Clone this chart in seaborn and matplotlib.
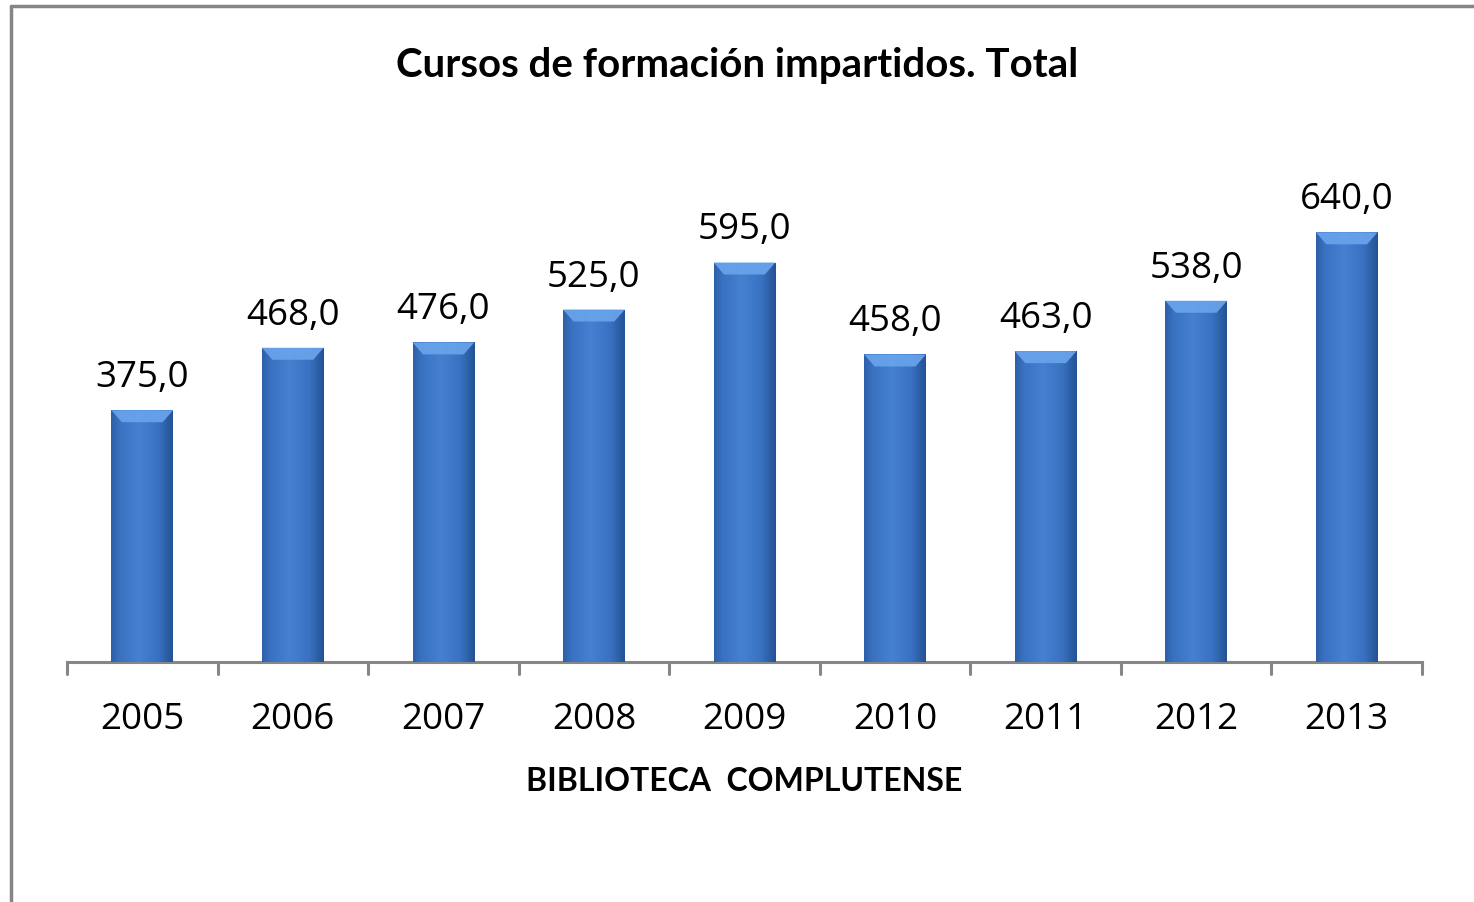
import matplotlib
matplotlib.use("Agg")
import matplotlib.pyplot as plt
import seaborn as sns
import numpy as np
import pandas as pd
from matplotlib.patches import Polygon
from matplotlib.lines import Line2D
from matplotlib.colors import LinearSegmentedColormap

years = ["2005", "2006", "2007", "2008", "2009", "2010", "2011", "2012", "2013"]
values = [375.0, 468.0, 476.0, 525.0, 595.0, 458.0, 463.0, 538.0, 640.0]
title = "Cursos de formación impartidos. Total"
xlabel = "BIBLIOTECA  COMPLUTENSE"

sns.set_theme(style="white")
plt.rcParams['font.family'] = ['Open Sans', 'DejaVu Sans']
plt.rcParams['text.color'] = 'black'
plt.rcParams['xtick.color'] = 'black'
plt.rcParams['axes.labelcolor'] = 'black'

df = pd.DataFrame({"year": years, "value": values})

fig = plt.figure(figsize=(14.74, 9.03), dpi=100)
ax = fig.add_axes([67/1474, 1-663/903, (1422-67)/1474, (663-193)/903])

sns.barplot(data=df, x="year", y="value", color="#3b6fbd", width=0.41,
            saturation=1, ax=ax, edgecolor="none")

ax.set_ylim(0, 700)
ax.set_xlim(-0.5, len(years) - 0.5)

grad = np.linspace(0, 1, 64)
prof = np.clip(1 - np.abs(grad - 0.45) * 1.6, 0, 1)
cmap = LinearSegmentedColormap.from_list("b", ["#1d4a88", "#3a72c2", "#4680d0"])
for p, v in zip(ax.patches, values):
    x0, w, h = p.get_x(), p.get_width(), p.get_height()
    im = ax.imshow(prof[np.newaxis, :], extent=[x0, x0 + w, 0, h], aspect="auto",
                   cmap=cmap, vmin=0, vmax=1, zorder=3)
    im.set_clip_path(p)
    bev = 700 * 12 / 470
    inset = w * 0.17
    poly = Polygon([[x0, h], [x0 + w, h], [x0 + w - inset, h - bev], [x0 + inset, h - bev]],
                   closed=True, facecolor="#67a2ea", edgecolor="none", zorder=4, alpha=0.95)
    ax.add_patch(poly)
    ax.text(x0 + w / 2, h + 700 * 15 / 470, f"{v:.1f}".replace(".", ","),
            ha="center", va="bottom", fontsize=26.5, color="#000000", zorder=5)

ax.set_ylabel("")
ax.set_yticks([])
ax.set_xlabel(xlabel, fontsize=23, fontweight="bold", labelpad=21,
              family=['Lato', 'DejaVu Sans'])
ax.set_xticks(range(len(years)))
ax.set_xticklabels(years, fontsize=26.5)
ax.tick_params(axis="x", length=0, pad=28)
for i in range(len(years) + 1):
    ax.plot([i - 0.5, i - 0.5], [0, -700 * 12 / 470], color="#868686", lw=2.2,
            clip_on=False, zorder=2)

for s in ["top", "right", "left"]:
    ax.spines[s].set_visible(False)
ax.spines["bottom"].set_color("#868686")
ax.spines["bottom"].set_linewidth(2.2)

fig.text(0.5, 1 - 65/903, title, ha="center", va="center", fontsize=29,
         fontweight="bold", color="black", family=['Lato', 'DejaVu Sans'])

fig.add_artist(Line2D([11/1474, 11/1474], [0, 1 - 7/903], color="#868686", lw=2.5,
                      transform=fig.transFigure))
fig.add_artist(Line2D([11/1474, 1], [1 - 7/903, 1 - 7/903], color="#868686", lw=2.5,
                      transform=fig.transFigure))

fig.savefig("out.png", dpi=100)
